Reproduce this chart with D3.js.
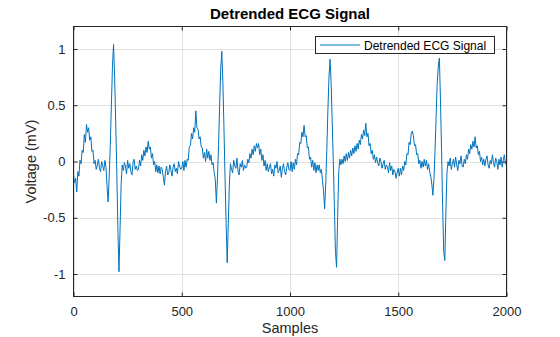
<!DOCTYPE html>
<html>
<head>
<meta charset="utf-8">
<script src="https://cdn.jsdelivr.net/npm/d3@7"></script>
<style>
  html, body { margin: 0; padding: 0; background: #fff; }
  svg { display: block; font-family: "Liberation Sans", Arial, Helvetica, sans-serif; }
</style>
</head>
<body>
<svg id="chart" width="560" height="337"></svg>
<script>
// ---- data ----
const chartTitle = "Detrended ECG Signal";
const seriesName = "Detrended ECG Signal";
const xLabel = "Samples";
const yLabel = "Voltage (mV)";
const xTicks = [0, 500, 1000, 1500, 2000];
const yTicks = [-1, -0.5, 0, 0.5, 1];
const xDomain = [0, 2000];
const yDomain = [-1.2, 1.2];
const sampleStep = 5; // one reading every 5 samples
const voltage = [
  // 0-95
  -0.12, -0.19, -0.15, -0.27, -0.09, -0.13, 0.01, -0.02, 0.10, 0.08, 0.24, 0.17, 0.33, 0.26, 0.30, 0.19, 0.22, 0.09, 0.10, -0.02,
  // 100-195
  0.01, -0.07, -0.03, 0.02, -0.06, -0.09, 0.00, -0.04, -0.08, 0.01, -0.05, -0.22, -0.36, -0.13, 0.15, 0.50, 0.85, 1.04, 0.75, 0.35,
  // 200-295
  -0.10, -0.60, -0.98, -0.60, -0.20, -0.03, -0.08, -0.01, -0.04, -0.11, 0.01, -0.06, -0.02, -0.09, -0.12, -0.01, 0.02, -0.07, -0.04, -0.08,
  // 300-395
  -0.07, 0.01, -0.04, 0.06, 0.01, 0.10, 0.05, 0.13, 0.08, 0.18, 0.11, 0.13, 0.03, 0.07, -0.03, 0.00, -0.09, -0.03, -0.10, -0.04,
  // 400-495
  -0.11, -0.05, -0.07, -0.14, -0.21, -0.09, -0.04, -0.12, -0.10, -0.03, -0.08, -0.13, -0.05, -0.02, -0.09, -0.06, -0.11, 0.00, -0.04, -0.07,
  // 500-595
  -0.06, 0.00, -0.08, 0.01, -0.05, 0.02, 0.01, 0.13, 0.14, 0.25, 0.20, 0.30, 0.26, 0.45, 0.30, 0.29, 0.20, 0.22, 0.13, 0.12,
  // 600-695
  0.03, 0.08, 0.00, 0.11, 0.03, 0.09, 0.01, 0.06, -0.03, -0.01, -0.10, -0.16, -0.37, -0.14, 0.15, 0.50, 0.82, 0.98, 0.70, 0.30,
  // 700-795
  -0.15, -0.55, -0.90, -0.55, -0.20, -0.02, -0.07, -0.10, 0.01, -0.04, -0.06, 0.03, -0.09, -0.12, -0.02, -0.05, 0.01, -0.08, -0.03, -0.06,
  // 800-895
  -0.05, 0.02, -0.01, 0.07, 0.03, 0.11, 0.06, 0.14, 0.09, 0.16, 0.12, 0.16, 0.06, 0.11, 0.01, 0.06, -0.04, 0.01, -0.08, -0.02,
  // 900-995
  -0.09, -0.05, -0.02, -0.11, -0.07, -0.13, -0.03, -0.06, 0.00, -0.10, -0.08, -0.04, -0.14, -0.06, -0.02, -0.09, -0.12, -0.05, -0.01, -0.07,
  // 1000-1095
  -0.08, 0.00, -0.09, -0.01, -0.07, 0.02, -0.03, 0.07, 0.06, 0.17, 0.16, 0.26, 0.22, 0.32, 0.22, 0.23, 0.12, 0.13, 0.02, 0.04,
  // 1100-1195
  -0.05, 0.01, -0.08, -0.01, -0.10, -0.03, -0.08, -0.03, -0.10, -0.07, -0.17, -0.26, -0.42, -0.20, 0.10, 0.45, 0.75, 0.91, 0.70, 0.35,
  // 1200-1295
  0.00, -0.40, -0.80, -0.94, -0.50, -0.10, 0.02, -0.03, 0.02, -0.02, 0.05, 0.00, 0.07, 0.01, 0.08, 0.03, 0.10, 0.05, 0.12, 0.07,
  // 1300-1395
  0.14, 0.09, 0.16, 0.11, 0.19, 0.15, 0.24, 0.20, 0.28, 0.23, 0.34, 0.22, 0.25, 0.14, 0.16, 0.07, 0.10, 0.02, 0.06, -0.01,
  // 1400-1495
  0.04, -0.01, -0.04, 0.03, 0.00, -0.06, -0.02, 0.01, -0.07, -0.03, -0.05, -0.10, -0.01, -0.08, -0.04, -0.12, -0.07, -0.09, -0.15, -0.10,
  // 1500-1595
  -0.06, -0.13, -0.06, -0.12, -0.04, -0.08, 0.00, -0.03, 0.07, 0.06, 0.17, 0.15, 0.25, 0.27, 0.23, 0.14, 0.15, 0.06, 0.07, -0.02,
  // 1600-1695
  0.01, -0.06, 0.00, -0.05, 0.02, -0.04, 0.01, -0.07, -0.02, -0.09, -0.13, -0.20, -0.30, -0.15, 0.10, 0.40, 0.70, 0.85, 0.92, 0.55,
  // 1700-1795
  0.10, -0.40, -0.80, -0.88, -0.45, -0.10, 0.00, -0.04, 0.03, -0.07, -0.02, 0.02, -0.05, 0.04, -0.03, -0.08, 0.01, -0.02, 0.05, -0.04,
  // 1800-1895
  -0.05, 0.02, -0.02, 0.06, 0.02, 0.11, 0.07, 0.15, 0.11, 0.18, 0.13, 0.22, 0.12, 0.14, 0.06, 0.09, 0.00, 0.04, -0.03, 0.02,
  // 1900-1995
  -0.04, 0.02, 0.05, -0.03, -0.06, 0.01, -0.02, 0.06, -0.01, -0.05, 0.03, 0.00, -0.07, 0.02, -0.03, 0.04, -0.05, 0.01, 0.06, -0.02,
  // 2000
  -0.03
];

// ---- layout ----
const plotLeft = 73.5, plotRight = 506.5, plotTop = 26.5, plotBottom = 296.5;
const axisColor = "#262626";
const gridColor = "#e0e0e0";
const lineColor = "#0072BD";

const svg = d3.select("#chart");
const x = d3.scaleLinear().domain(xDomain).range([plotLeft, plotRight]);
const y = d3.scaleLinear().domain(yDomain).range([plotBottom, plotTop]);

// grid
const grid = svg.append("g");
grid.selectAll("line.gx").data(xTicks).join("line")
  .attr("x1", d => Math.round(x(d)) + 0.5).attr("x2", d => Math.round(x(d)) + 0.5)
  .attr("y1", plotTop).attr("y2", plotBottom)
  .attr("stroke", gridColor).attr("stroke-width", 1);
grid.selectAll("line.gy").data(yTicks).join("line")
  .attr("y1", d => Math.round(y(d)) + 0.5).attr("y2", d => Math.round(y(d)) + 0.5)
  .attr("x1", plotLeft).attr("x2", plotRight)
  .attr("stroke", gridColor).attr("stroke-width", 1);

// signal
const data = voltage.map((v, i) => ({ s: i * sampleStep, v }));
svg.append("path")
  .datum(data)
  .attr("fill", "none")
  .attr("stroke", lineColor)
  .attr("stroke-width", 1)
  .attr("stroke-linejoin", "round")
  .attr("d", d3.line().x(d => x(d.s)).y(d => y(d.v)));

// axes (ticks inward, MATLAB style)
const tickLen = 4;
const xAxis = d3.axisBottom(x).tickValues(xTicks).tickFormat(d3.format("d"))
  .tickSizeInner(-tickLen).tickSizeOuter(0).tickPadding(10);
const yAxis = d3.axisLeft(y).tickValues(yTicks).tickFormat(d => d === 0 ? "0" : String(d))
  .tickSizeInner(-tickLen).tickSizeOuter(0).tickPadding(8);
const xTop = d3.axisTop(x).tickValues(xTicks).tickFormat("").tickSizeInner(-tickLen).tickSizeOuter(0);
const yRight = d3.axisRight(y).tickValues(yTicks).tickFormat("").tickSizeInner(-tickLen).tickSizeOuter(0);

function styleAxis(g) {
  g.select(".domain").remove();
  g.selectAll(".tick line").attr("stroke", axisColor);
  g.selectAll(".tick text").attr("fill", axisColor)
    .style("font-size", "13px").style("font-family", "'Liberation Sans', Arial, sans-serif");
}
svg.append("g").attr("transform", `translate(0,${plotBottom})`).call(xAxis).call(styleAxis);
svg.append("g").attr("transform", `translate(${plotLeft},0)`).call(yAxis).call(styleAxis);
svg.append("g").attr("transform", `translate(0,${plotTop})`).call(xTop).call(styleAxis);
svg.append("g").attr("transform", `translate(${plotRight},0)`).call(yRight).call(styleAxis);

// box
svg.append("rect")
  .attr("x", plotLeft).attr("y", plotTop)
  .attr("width", plotRight - plotLeft).attr("height", plotBottom - plotTop)
  .attr("fill", "none").attr("stroke", axisColor).attr("stroke-width", 1);

// title and labels
svg.append("text").attr("x", (plotLeft + plotRight) / 2).attr("y", 19)
  .attr("text-anchor", "middle").attr("font-weight", "bold").attr("font-size", "15px")
  .attr("fill", "#000").text(chartTitle);
svg.append("text").attr("x", (plotLeft + plotRight) / 2).attr("y", 333)
  .attr("text-anchor", "middle").attr("font-size", "14.5px").attr("fill", axisColor).text(xLabel);
svg.append("text").attr("transform", `translate(36,${(plotTop + plotBottom) / 2}) rotate(-90)`)
  .attr("text-anchor", "middle").attr("font-size", "14.5px").attr("fill", axisColor).text(yLabel);

// legend
const lg = svg.append("g");
lg.append("rect").attr("x", 315.5).attr("y", 36.5).attr("width", 179).attr("height", 17)
  .attr("fill", "#fff").attr("stroke", axisColor).attr("stroke-width", 1);
lg.append("line").attr("x1", 320).attr("x2", 360).attr("y1", 45).attr("y2", 45)
  .attr("stroke", lineColor).attr("stroke-width", 1);
lg.append("text").attr("x", 364).attr("y", 49.5).attr("font-size", "12px")
  .attr("fill", "#000").text(seriesName);
</script>
</body>
</html>
